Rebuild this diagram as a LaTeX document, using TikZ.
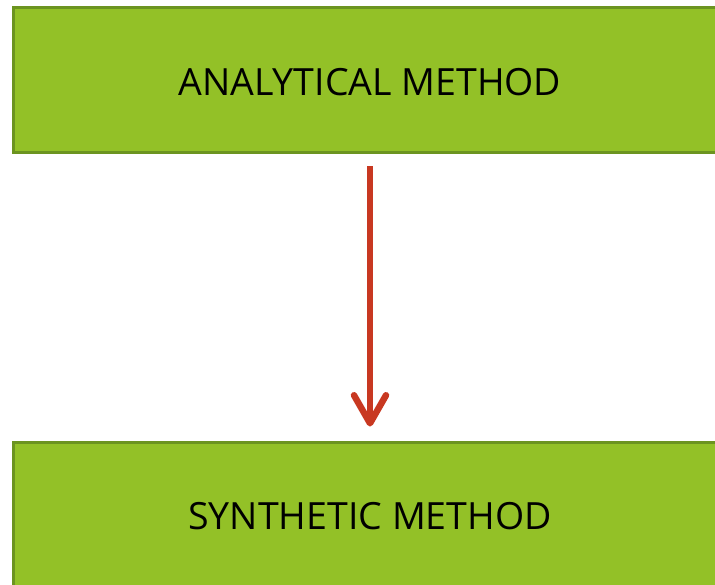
\documentclass[tikz,border=0pt]{standalone}
\usepackage{fontspec}
\setmainfont{Open Sans}
\usepackage{tikz}
\usetikzlibrary{arrows.meta,positioning}
\definecolor{boxgreen}{RGB}{147,193,39}
\definecolor{boxedge}{RGB}{108,148,32}
\definecolor{arrowred}{RGB}{200,56,33}

\begin{document}
\begin{tikzpicture}[x=1pt,y=-1pt]
	\tikzstyle{every node}=[font=\fontsize{37.5}{40}\selectfont]
	\tikzstyle{methodbox}=[rectangle,draw=boxedge,fill=boxgreen,line width=3pt,
		minimum width=713pt,minimum height=145pt,inner sep=0pt,text height=31pt]
	\useasboundingbox (0,0) rectangle (715,584);
	\node[methodbox] (analytical) at (370,80) {ANALYTICAL METHOD};
	\node[methodbox] (synthetic) at (370,514.5) {SYNTHETIC METHOD};
	
	\draw[arrowred,line width=6.5pt,shorten <=12pt,shorten >=14pt,
		-{Straight Barb[length=28pt,width=32pt,line cap=round,line join=round]}]
	(analytical) -- (synthetic);
\end{tikzpicture}
\end{document}
